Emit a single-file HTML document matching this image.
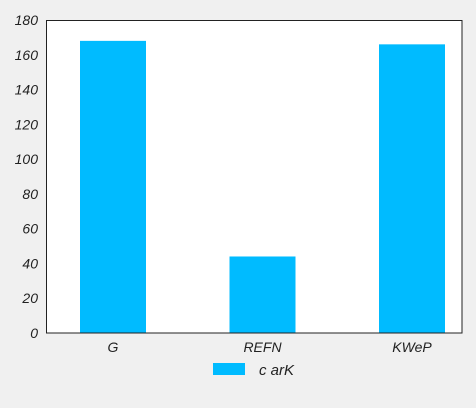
<!DOCTYPE html>
<html><head><meta charset="utf-8"><style>
html,body{margin:0;padding:0;background:#f0f0f0;overflow:hidden;}
svg{display:block;}
svg text{font-family:"Liberation Sans",sans-serif;font-style:italic;fill:#222;}
</style></head><body>
<svg width="476" height="408">
<rect x="0" y="0" width="476" height="408" fill="#f0f0f0"/>
<rect x="46" y="20" width="416" height="313" fill="#fff"/>
<g id="bars"></g>
<g id="yticks"></g>
<g id="xticks"></g>
<rect x="46.5" y="20.5" width="415.5" height="312.5" fill="none" stroke="#222" stroke-width="1"/>
<g>
<rect x="213" y="363" width="32" height="12" fill="#00bbff"/>
<text x="259" y="375" font-size="15">c arK</text>
</g>
</svg>
<script>
const categories = ["G", "REFN", "KWeP"];
const values = [168, 44, 166];
const yTicks = [0, 20, 40, 60, 80, 100, 120, 140, 160, 180];
const NS = "http://www.w3.org/2000/svg";
const y0 = 333, y1 = 20, yMax = 180;
const yScale = v => y0 - (v / yMax) * (y0 - y1);
const xFirst = 113, xLast = 412;
const xCenter = i => xFirst + (xLast - xFirst) * i / (categories.length - 1);
const barW = 66;
const gB = document.getElementById("bars");
categories.forEach((c, i) => {
  const r = document.createElementNS(NS, "rect");
  r.setAttribute("x", xCenter(i) - barW / 2);
  r.setAttribute("y", yScale(values[i]));
  r.setAttribute("width", barW);
  r.setAttribute("height", y0 - yScale(values[i]));
  r.setAttribute("fill", "#00bbff");
  
  
  gB.appendChild(r);
  const t = document.createElementNS(NS, "text");
  t.setAttribute("x", xCenter(i));
  t.setAttribute("y", 352);
  t.setAttribute("text-anchor", "middle");
  t.setAttribute("font-size", "14");
  t.textContent = c;
  
  
  document.getElementById("xticks").appendChild(t);
});
const gY = document.getElementById("yticks");
yTicks.forEach(v => {
  const t = document.createElementNS(NS, "text");
  t.setAttribute("x", 38);
  t.setAttribute("y", yScale(v) + 5);
  t.setAttribute("text-anchor", "end");
  t.setAttribute("font-size", "14");
  t.textContent = v;
  
  
  gY.appendChild(t);
});
</script>
</body></html>
